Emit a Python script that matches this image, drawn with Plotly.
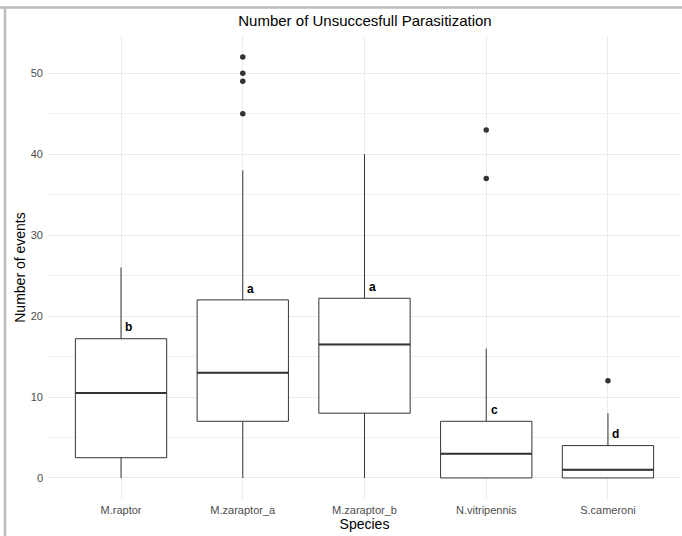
import plotly.graph_objects as go

species = ["M.raptor", "M.zaraptor_a", "M.zaraptor_b", "N.vitripennis", "S.cameroni"]
q1 = [2.5, 7, 8, 0, 0]
median = [10.5, 13, 16.5, 3, 1]
q3 = [17.2, 22, 22.2, 7, 4]
lower = [0, 0, 0, 0, 0]
upper = [26, 38, 40, 16, 8]
outlier_species = ["M.zaraptor_a", "M.zaraptor_a", "M.zaraptor_a", "M.zaraptor_a",
                   "N.vitripennis", "N.vitripennis", "S.cameroni"]
outlier_values = [45, 49, 50, 52, 37, 43, 12]
letters = ["b", "a", "a", "c", "d"]
y_ticks = [0, 10, 20, 30, 40, 50]

pos = {s: i + 1 for i, s in enumerate(species)}
xs = [pos[s] for s in species]
BW = 0.75
LINE = "#333333"
FONT = "Liberation Sans, Arial, sans-serif"

fig = go.Figure()
fig.add_trace(go.Box(
    x=xs, q1=q1, median=median, q3=q3, lowerfence=lower, upperfence=upper,
    width=BW, whiskerwidth=0, fillcolor="white",
    line=dict(color=LINE, width=1), boxpoints=False, showlegend=False,
    hoverinfo="skip",
))

# thicker median lines (ggplot fatten)
mx, my = [], []
for x, m in zip(xs, median):
    mx += [x - BW / 2, x + BW / 2, None]
    my += [m, m, None]
fig.add_trace(go.Scatter(x=mx, y=my, mode="lines", line=dict(color=LINE, width=2),
                         showlegend=False, hoverinfo="skip"))

fig.add_trace(go.Scatter(
    x=[pos[s] for s in outlier_species], y=outlier_values, mode="markers",
    marker=dict(color=LINE, size=5.5), showlegend=False, hoverinfo="skip"))

for x, q, lab in zip(xs, q3, letters):
    fig.add_annotation(x=x + 0.02, y=q + 1.4, text="<b>%s</b>" % lab, showarrow=False,
                       xanchor="left", yanchor="middle",
                       font=dict(family=FONT, size=12, color="black"))

L, R, T, B = 48, 1, 36, 37
W, H = 682, 536
pw, ph = W - L - R, H - T - B

def px_x(p):
    return (p - L) / pw

def px_y(p):
    return (H - B - p) / ph

# grey frame of the screenshot
fig.add_shape(type="line", xref="paper", yref="paper", x0=px_x(0), x1=px_x(W + 2),
              y0=px_y(7.5), y1=px_y(7.5), line=dict(color="#bdbdbd", width=2.5))
fig.add_shape(type="line", xref="paper", yref="paper", x0=px_x(5), x1=px_x(5),
              y0=px_y(6.5), y1=px_y(H + 2), line=dict(color="#bdbdbd", width=2.5))

fig.update_layout(
    width=W, height=H, margin=dict(l=L, r=R, t=T, b=B),
    paper_bgcolor="white", plot_bgcolor="white",
    font=dict(family=FONT),
    title=dict(text="Number of Unsuccesfull Parasitization", x=px_x(365), xanchor="center",
               y=1 - 21 / H, yanchor="middle", xref="paper",
               font=dict(family=FONT, size=15, color="black")),
    xaxis=dict(range=[0.4, 5.6], tickmode="array", tickvals=xs, ticktext=species,
               showgrid=True, gridcolor="#ebebeb", gridwidth=1, zeroline=False,
               showline=False, ticks="", tickfont=dict(size=11, color="#4d4d4d"),
               ticklabelstandoff=3,
               title=dict(text="Species", font=dict(size=14, color="black"), standoff=4)),
    yaxis=dict(range=[-2.6, 54.6], tickmode="array", tickvals=y_ticks,
               showgrid=True, gridcolor="#ebebeb", gridwidth=1, zeroline=False,
               showline=False, ticks="", tickfont=dict(size=11, color="#4d4d4d"),
               ticklabelstandoff=4,
               minor=dict(dtick=5, tick0=0, showgrid=True, gridcolor="#f0f0f0", gridwidth=1),
               title=dict(text="Number of events", font=dict(size=14, color="black"), standoff=1)),
)

fig.write_html("out.html")
